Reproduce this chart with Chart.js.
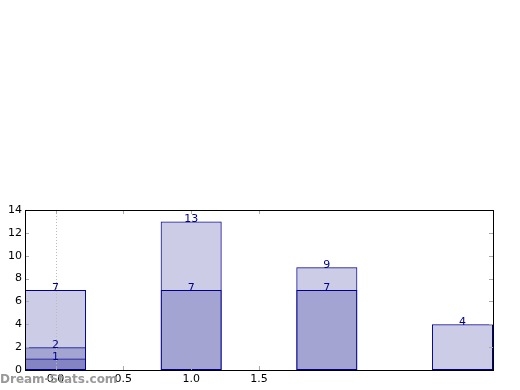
<!DOCTYPE html>
<html>
<head>
<meta charset="utf-8">
<script src="https://cdn.jsdelivr.net/npm/chart.js@4/dist/chart.umd.min.js"></script>
<style>
  html, body { margin: 0; padding: 0; background: #fff; }
  #wrap { position: relative; width: 520px; height: 390px; }
  #mark { position: absolute; left: 0; top: 372px; font: bold 12px "DejaVu Sans", sans-serif; color: #999; }
</style>
</head>
<body>
<div id="wrap">
  <canvas id="myChart" width="520" height="390"></canvas>
  <div id="mark">Dream-Stats.com</div>
</div>
<script>
// bar positions and values (overlapping bars, not stacked)
var positions = [0, 1, 2, 3];
var seriesA = [7, 13, 9, 4];
var seriesB = [2, 7, 7, null];
var seriesC = [1, null, null, null];
var xTicks = [0, 0.5, 1.0, 1.5];
var yTicks = [0, 2, 4, 6, 8, 10, 12, 14];

function toPoints(values) {
    var pts = [];
    for (var i = 0; i < values.length; i++) {
        if (values[i] !== null) pts.push({ x: positions[i], y: values[i] });
    }
    return pts;
}

function makeSet(values) {
    return {
        data: toPoints(values),
        backgroundColor: 'rgba(0, 0, 128, 0.2)',
        borderColor: 'rgb(0, 0, 140)',
        borderWidth: 1,
        borderSkipped: false,
        // tick spacing (0.5) is the ruler here, so 0.9 -> 0.45 wide
        barPercentage: 0.9,
        categoryPercentage: 1,
        grouped: false
    };
}

// frame, inner tick marks and value labels
var decorPlugin = {
    id: 'decor',
    afterDatasetsDraw: function (chart) {
        var ctx = chart.ctx;
        var a = chart.chartArea;
        var xs = chart.scales.x, ys = chart.scales.y;
        ctx.save();
        // dotted line at 0
        ctx.strokeStyle = '#bbbbbb';
        ctx.setLineDash([1, 2]);
        ctx.lineWidth = 1;
        var x0 = Math.round(xs.getPixelForValue(0)) + 0.5;
        ctx.beginPath();
        ctx.moveTo(x0, a.top);
        ctx.lineTo(x0, a.bottom);
        ctx.stroke();
        ctx.setLineDash([]);

        // tick marks
        ctx.strokeStyle = '#aaaaaa';
        ctx.beginPath();
        xTicks.forEach(function (v) {
            var px = Math.round(xs.getPixelForValue(v)) + 0.5;
            ctx.moveTo(px, a.bottom); ctx.lineTo(px, a.bottom - 4);
            ctx.moveTo(px, a.top); ctx.lineTo(px, a.top + 4);
        });
        yTicks.forEach(function (v) {
            var py = Math.round(ys.getPixelForValue(v)) + 0.5;
            ctx.moveTo(a.left, py); ctx.lineTo(a.left + 4, py);
            ctx.moveTo(a.right, py); ctx.lineTo(a.right - 4, py);
        });
        ctx.stroke();

        // frame
        ctx.strokeStyle = '#000000';
        ctx.strokeRect(Math.round(a.left) + 0.5, Math.round(a.top) + 0.5,
            Math.round(a.right - a.left), Math.round(a.bottom - a.top));

        // value labels
        ctx.fillStyle = 'rgb(0, 0, 140)';
        ctx.font = '11px "DejaVu Sans", sans-serif';
        ctx.textAlign = 'center';
        ctx.textBaseline = 'alphabetic';
        chart.data.datasets.forEach(function (ds, i) {
            var meta = chart.getDatasetMeta(i);
            meta.data.forEach(function (bar, j) {
                ctx.fillText(String(ds.data[j].y), bar.x, bar.y + 1);
            });
        });
        ctx.restore();
    }
};

var ctx = document.getElementById('myChart').getContext('2d');
var myChart = new Chart(ctx, {
    type: 'bar',
    data: {
        datasets: [makeSet(seriesA), makeSet(seriesB), makeSet(seriesC)]
    },
    options: {
        responsive: false,
        animation: false,
        layout: { padding: { top: 210, right: 27, left: 0, bottom: 0 } },
        plugins: { legend: { display: false }, tooltip: { enabled: false } },
        scales: {
            x: {
                type: 'linear',
                offset: false,
                min: -0.225,
                max: 3.225,
                grid: { display: false, drawTicks: false, tickLength: 0 },
                border: { display: false },
                afterBuildTicks: function (scale) {
                    scale.ticks = xTicks.map(function (v) { return { value: v }; });
                },
                afterFit: function (scale) { scale.height = 20; },
                ticks: {
                    color: '#000',
                    font: { family: 'DejaVu Sans', size: 11 },
                    padding: 3,
                    maxRotation: 0,
                    callback: function (v) { return Number(v).toFixed(1); }
                }
            },
            y: {
                min: 0,
                max: 14,
                grid: { display: false, drawTicks: false, tickLength: 0 },
                border: { display: false },
                afterBuildTicks: function (scale) {
                    scale.ticks = yTicks.map(function (v) { return { value: v }; });
                },
                afterFit: function (scale) { scale.width = 25; },
                ticks: {
                    color: '#000',
                    font: { family: 'DejaVu Sans', size: 11 },
                    padding: 3
                }
            }
        }
    },
    plugins: [decorPlugin]
});
</script>
</body>
</html>
